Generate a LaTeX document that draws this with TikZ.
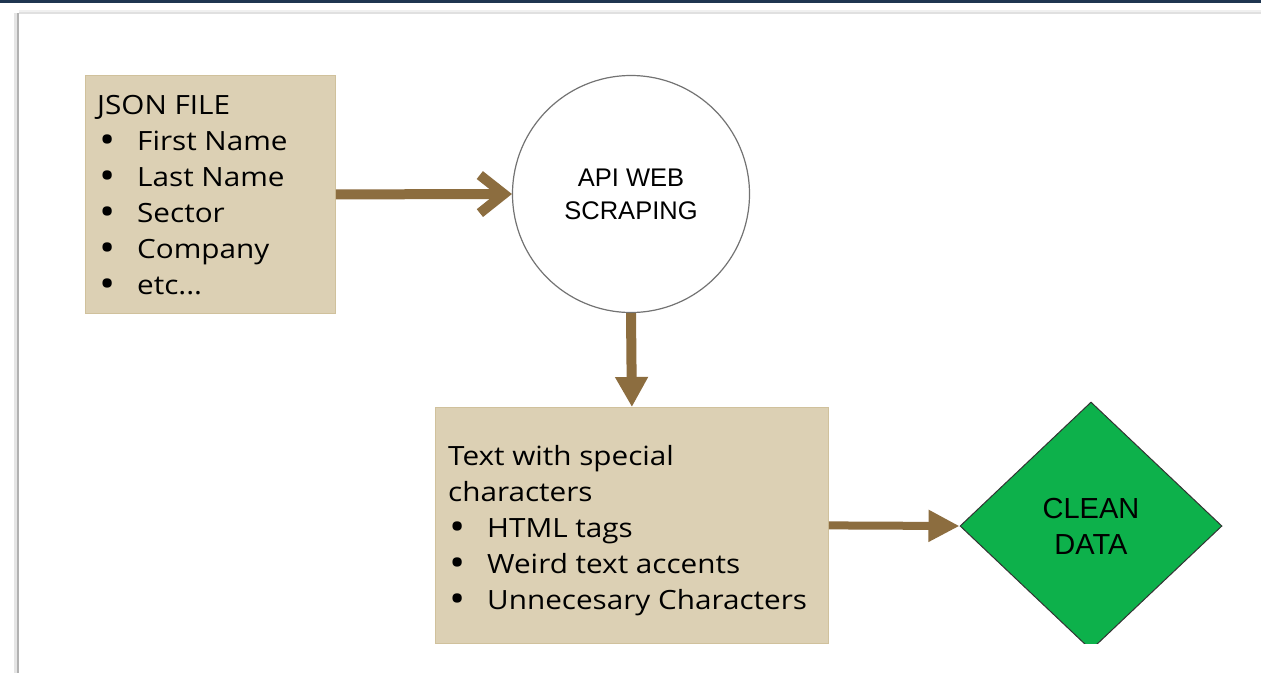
\documentclass[tikz,border=0pt]{standalone}
\usepackage{fontspec}
\setmainfont{Open Sans}[FakeStretch=1.12]
\newfontfamily\arialf{Liberation Sans}
\usetikzlibrary{arrows.meta,shapes.geometric}
\definecolor{boxtan}{HTML}{DCD0B4}
\definecolor{boxedge}{HTML}{D0C19C}
\definecolor{arrowbrown}{HTML}{8C6D3F}
\definecolor{cleangreen}{HTML}{0DB14B}
\definecolor{navybar}{HTML}{1F3550}
\newcommand{\listbullet}{\raisebox{-0.14em}{\scalebox{1.45}{\textbullet}}}
\begin{document}
\begin{tikzpicture}[x=1pt,y=-1pt,
  tanbox/.style={draw=boxedge, fill=boxtan, line width=0.8pt, inner sep=0pt, anchor=north west},
  boxtext/.style={anchor=base west, inner sep=0pt, font=\fontsize{26.5}{33}\selectfont},
  flow/.style={draw=arrowbrown, fill=arrowbrown},
]
\useasboundingbox (0,0) rectangle (1261,673);
% page frame
\fill[white] (0,0) rectangle (1261,673);
\fill[navybar] (0,0) rectangle (1261,3);
\fill[black!6] (19,10) rectangle (1261,12);
\fill[black!12] (19,12) rectangle (1261,14);
\fill[black!10] (14,13) rectangle (17,673);
\fill[black!30] (17,13) rectangle (19,673);

% nodes
\node[tanbox, minimum width=250pt, minimum height=238pt] (json) at (85,75) {};
\node[circle, draw=black!55, line width=1.2pt, fill=white, minimum size=237pt, inner sep=0pt,
      align=center, font=\arialf\fontsize{25.5}{33}\selectfont] (api) at (631,194) {API WEB\\SCRAPING};
\node[tanbox, minimum width=393pt, minimum height=236pt] (proc) at (435,407) {};
\begin{scope}
  \clip (0,0) rectangle (1261,643);
  \node[diamond, draw=black!80, line width=1pt, fill=cleangreen, minimum width=262pt, minimum height=248pt,
        inner sep=0pt, align=center, font=\arialf\fontsize{29}{36}\selectfont] (clean) at (1091,526) {CLEAN\\DATA};
\end{scope}

% list in the JSON box
\node[boxtext] (j0) at (97,114) {JSON FILE};
\foreach \t [count=\i] in {First Name, Last Name, Sector, Company}{
  \node[boxtext] (jb\i) at (99,114+36*\i) {\listbullet};
  \node[boxtext] (jt\i) at (137,114+36*\i) {\t};
}
\node[boxtext] (jb5) at (99,294) {\listbullet};
\node[boxtext] (jt5) at (137,294) {etc...};

% list in the processing box
\node[boxtext] (p0) at (448,465) {Text with special};
\node[boxtext] (p1) at (448,501) {characters};
\foreach \t [count=\i] in {HTML tags, Weird text accents, Unnecesary Characters}{
  \node[boxtext] (pb\i) at (449,501+36*\i) {\listbullet};
  \node[boxtext] (pt\i) at (487,501+36*\i) {\t};
}

% connectors
\draw[flow, line width=10pt, fill=none, -{Straight Barb[length=24pt,width=38pt]}] (json.east) -- (api.west);
\draw[flow, line width=10pt, -{Triangle[length=30pt,width=31pt]}] (api.south) -- (proc.north);
\draw[flow, line width=8pt, -{Triangle[length=31pt,width=30pt]}] (proc.east) -- (clean.west);
\end{tikzpicture}
\end{document}
